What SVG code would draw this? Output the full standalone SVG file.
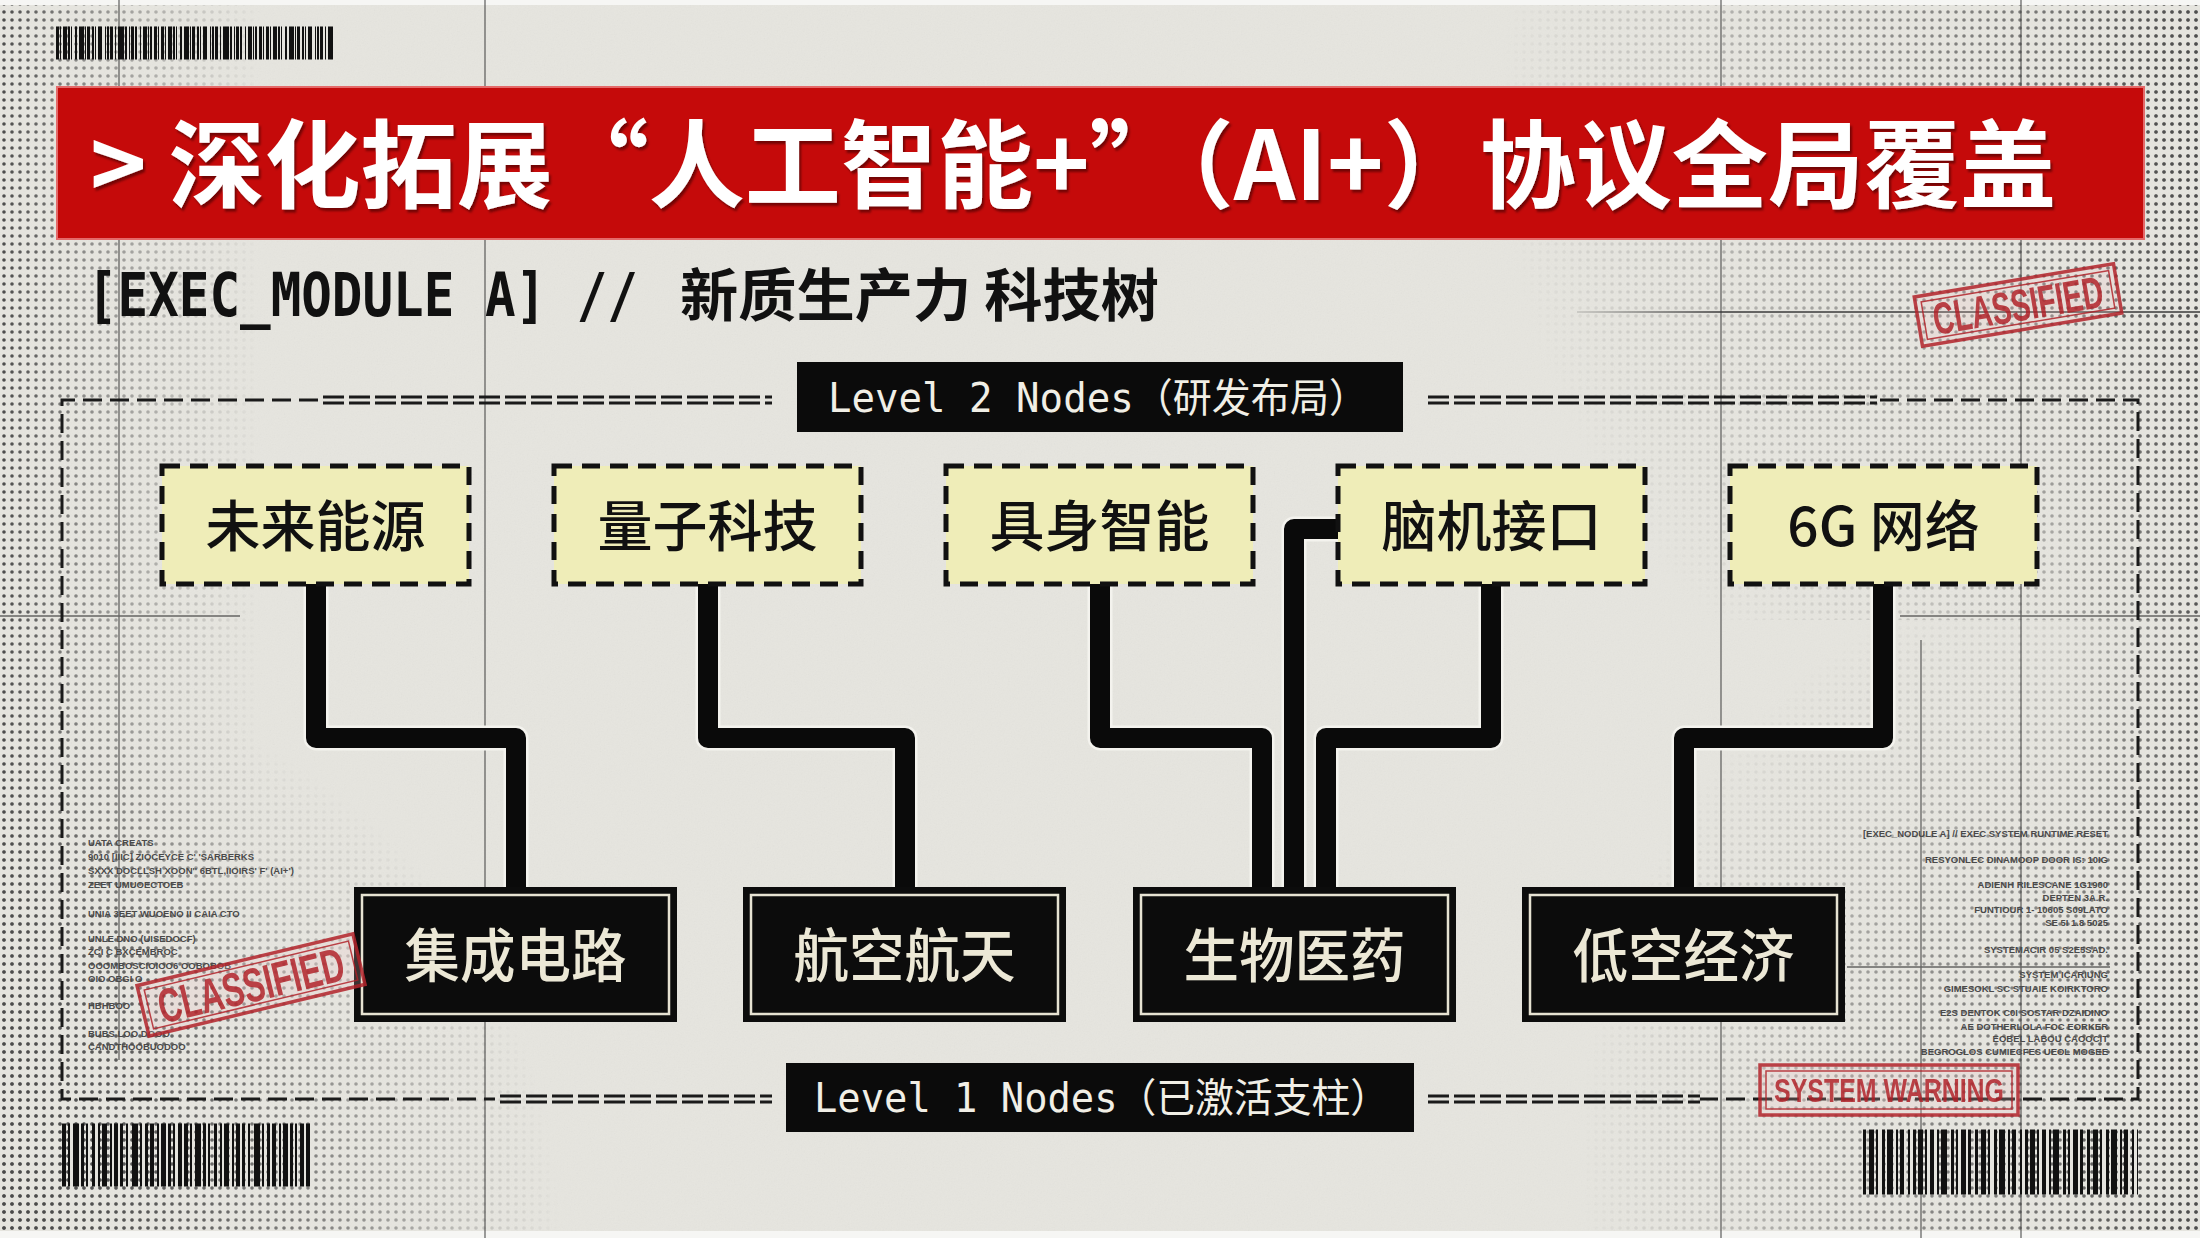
<svg xmlns="http://www.w3.org/2000/svg" width="2200" height="1238" viewBox="0 0 2200 1238">
<defs>
<style>
.cjk{font-family:'Noto Sans CJK SC','Noto Sans',sans-serif}
.mono{font-family:'DejaVu Sans Mono','Noto Sans CJK SC',monospace}
.crop{stroke:#3a3a3a;stroke-width:1.3;opacity:.75;fill:none}
.frame{fill:none;stroke:#1a1a1a;stroke-width:3;stroke-dasharray:19 8}
.dbl{fill:none;stroke:#1a1a1a;stroke-width:3;stroke-dasharray:21 5}
.l2 rect{fill:#efedb8;stroke:#111;stroke-width:5;stroke-dasharray:18 10}
.l2 text{font-size:55px;font-weight:500;fill:#111;text-anchor:middle}
.l1 .o{fill:#0c0c0c}
.l1 .i{fill:none;stroke:#e6e2d2;stroke-width:2.5}
.l1 text{font-size:58px;font-weight:500;fill:#ece8d6;text-anchor:middle}
.lbl rect{fill:#0b0b0b}
.lbl text{font-size:40px;fill:#f1efe6}
.conn path{fill:none;stroke:#0a0a0a;stroke-width:20;stroke-linejoin:round}
.halo path{fill:none;stroke:#f4f3ee;stroke-width:25;stroke-linejoin:round}
.stamp{opacity:.86}
.stamp .so{fill:rgba(240,200,200,.25);stroke:#b3262d;stroke-width:3.5}
.stamp .si{fill:none;stroke:#b3262d;stroke-width:1.5}
.stamp text{font-family:'Liberation Sans',Arial,sans-serif;font-weight:bold;fill:#b3262d}
.tiny{font-family:'Liberation Sans',Arial,sans-serif;font-size:9.5px;fill:#4a4a4a;font-weight:bold}
.bar{fill:none;stroke:#111}
</style>
<pattern id="dots" width="8" height="8" patternUnits="userSpaceOnUse"><circle cx="4" cy="4" r="1.8" fill="#4a4a4a"/></pattern>
<filter id="grain" x="0" y="0" width="2200" height="1238" filterUnits="userSpaceOnUse"><feTurbulence type="fractalNoise" baseFrequency="0.7" numOctaves="3" seed="7"/><feColorMatrix type="saturate" values="0"/></filter>
<filter id="tshadow" x="-5%" y="-20%" width="110%" height="140%"><feDropShadow dx="2" dy="3" stdDeviation="1.2" flood-color="#3a0000" flood-opacity="0.6"/></filter>
<linearGradient id="gL" x1="0" y1="0" x2="260" y2="0" gradientUnits="userSpaceOnUse"><stop offset="0" stop-color="#fff"/><stop offset="0.3" stop-color="#999"/><stop offset="1" stop-color="#000"/></linearGradient>
<linearGradient id="gR" x1="2200" y1="0" x2="2060" y2="0" gradientUnits="userSpaceOnUse"><stop offset="0" stop-color="#ddd"/><stop offset="1" stop-color="#000"/></linearGradient>
<linearGradient id="gLine" x1="1577" y1="0" x2="1720" y2="0" gradientUnits="userSpaceOnUse"><stop offset="0" stop-color="#3a3a3a" stop-opacity="0.2"/><stop offset="1" stop-color="#3a3a3a" stop-opacity="1"/></linearGradient>
<radialGradient id="gBL" cx="0" cy="1238" r="560" gradientUnits="userSpaceOnUse"><stop offset="0" stop-color="#fff"/><stop offset="0.55" stop-color="#aaa"/><stop offset="1" stop-color="#000"/></radialGradient>
<radialGradient id="gTR" cx="2200" cy="120" r="700" gradientUnits="userSpaceOnUse"><stop offset="0" stop-color="#eee"/><stop offset="0.5" stop-color="#888"/><stop offset="1" stop-color="#000"/></radialGradient>
<radialGradient id="gBR" cx="2200" cy="1150" r="620" gradientUnits="userSpaceOnUse"><stop offset="0" stop-color="#eee"/><stop offset="0.55" stop-color="#888"/><stop offset="1" stop-color="#000"/></radialGradient>
<mask id="mL"><rect x="0" y="0" width="260" height="1238" fill="url(#gL)"/></mask>
<mask id="mR"><rect x="2060" y="0" width="140" height="1238" fill="url(#gR)"/></mask>
<mask id="mBL"><rect x="0" y="680" width="560" height="558" fill="url(#gBL)"/></mask>
<mask id="mTR"><rect x="1500" y="0" width="700" height="620" fill="url(#gTR)"/></mask>
<mask id="mBR"><rect x="1580" y="560" width="620" height="678" fill="url(#gBR)"/></mask>
</defs>

<g id="background">
<rect width="2200" height="1238" fill="#e6e5df"/>
<rect width="2200" height="1238" filter="url(#grain)" opacity="0.06"/>
<rect x="0" y="0" width="260" height="1238" fill="url(#dots)" mask="url(#mL)"/>
<rect x="2060" y="0" width="140" height="1238" fill="url(#dots)" mask="url(#mR)"/>
<rect x="0" y="680" width="560" height="558" fill="url(#dots)" mask="url(#mBL)"/>
<rect x="1500" y="0" width="700" height="620" fill="url(#dots)" mask="url(#mTR)"/>
<rect x="1580" y="560" width="620" height="678" fill="url(#dots)" mask="url(#mBR)"/>
<rect x="0" y="0" width="2200" height="5" fill="#f6f6f4"/>
<rect x="0" y="1231" width="2200" height="7" fill="#f6f6f4"/>
<path class="crop" d="M119 0V1060M485 0V1238M1721 0V1238M2021 0V1238M1921 640V1238M0 616H240M1900 616H2200M1847 967H2110"/>
<path d="M1577 312H2200" stroke="url(#gLine)" stroke-width="1.6" fill="none"/>
</g>

<g id="barcodes">
<line class="bar" x1="56" y1="43" x2="333" y2="43" stroke-width="33" stroke-dasharray="3 1 1 2 4 1 2 1 1 3 2 2 5 1 1 1 3 2 2 1 1 2 4 3 1 1 2 1 3 2 1 2 6 1 2 2 1 1 3 1 2 3 1 2 4 1 1 1 2 2 3 1 1 2"/>
<line class="bar" x1="62" y1="1155" x2="312" y2="1155" stroke-width="63" stroke-dasharray="4 2 2 3 6 2 3 2 2 4 3 3 2 2 5 3 2 2 4 2 3 3 2 4 6 2 2 3 3 2 4 3 2 2 5 2 3 2 2 3 4 2"/>
<line class="bar" x1="1863" y1="1162" x2="2138" y2="1162" stroke-width="65" stroke-dasharray="3 3 5 2 2 4 3 2 6 3 2 2 4 4 2 3 3 2 5 2 2 3 4 3 2 2 6 4 3 2 2 3 5 2 3 4"/>
</g>

<g id="title">
<rect x="57" y="87" width="2087" height="152" fill="#c50a0a" stroke="#e46a6a" stroke-width="2"/>
<text class="cjk" x="90" y="200" font-size="96" font-weight="bold" fill="#ffffff" filter="url(#tshadow)" textLength="1966" lengthAdjust="spacingAndGlyphs">&gt; 深化拓展“人工智能+”（AI+）协议全局覆盖</text>
</g>

<g id="subtitle">
<text transform="translate(87 316) scale(0.8336 1)" x="0" y="0" font-family="'DejaVu Sans Mono',monospace" font-size="61" font-weight="bold" fill="#111">[EXEC_MODULE A] //</text>
<text class="cjk" x="680" y="316" font-size="57" font-weight="bold" fill="#111" textLength="479" lengthAdjust="spacingAndGlyphs">新质生产力 科技树</text>
</g>

<g id="frame">
<path class="frame" d="M318 400H62V1099H495"/>
<path class="frame" d="M1880 400H2138V1099H1700"/>
<path class="dbl" d="M323 397H772M323 403H772M1428 397H1877M1428 403H1877"/>
<path class="dbl" d="M500 1096H772M500 1102H772M1428 1096H1700M1428 1102H1700"/>
</g>

<g id="small-text-left" class="tiny">
<text x="88" y="846">UATA CREATS</text>
<text x="88" y="860">9010 [IIIC] ZIOCEYCE C' 'SARBERKS</text>
<text x="88" y="874">SXXX DOCLLSH XOON'' 6BTL,IIOIRS' F' (AI+')</text>
<text x="88" y="888">ZEET UMUOECTOEB</text>
<text x="88" y="917">UNIA 3EET WUOENO II CAIA CTO</text>
<text x="88" y="942">UNLE DNO (UISEDOCF)</text>
<text x="88" y="955">ZCI C BXCEMBROC</text>
<text x="88" y="969">OOOMBOSCIOIOO6 OOBOBOB</text>
<text x="88" y="982">OIO OBGI O</text>
<text x="88" y="1009">HBHBOO</text>
<text x="88" y="1037">BUBS LOO DOOO</text>
<text x="88" y="1050">CANDTHOOBUODOO</text>
</g>

<g id="small-text-right" class="tiny" text-anchor="end">
<text x="2108" y="837">[EXEC_NODULE A] // EXEC SYSTEM RUNTIME RESET</text>
<text x="2108" y="863">RESYONLEC DINAMOOP DOOR IS: 10IG</text>
<text x="2108" y="888">ADIENH RILESCANE 1G1900</text>
<text x="2108" y="901">DEPTEN 3A.R.</text>
<text x="2108" y="913">FUNTIOUR 1- 10605 S09LATO</text>
<text x="2108" y="926">SE 5I 1.8 5025</text>
<text x="2108" y="953">SYSTEMACIR 05 S2E5SAD.</text>
<text x="2108" y="978">SYSTEM ICARIUNG</text>
<text x="2108" y="992">GIMESOKL SC STUAIE KOIRKTORO</text>
<text x="2108" y="1016">E2S DENTOK C0I SOSTAR DZAIDINO</text>
<text x="2108" y="1030">AE DOTHERLOLA FOC EORKER</text>
<text x="2108" y="1042">EOBEL LABOU CAOOCIT</text>
<text x="2108" y="1055">BEGROGLOS CUMIECFES UEOL MOGEE</text>
</g>

<g id="connectors">
<g class="halo">
<path d="M316 582V738H516V889"/>
<path d="M708 582V738H905V889"/>
<path d="M1100 582V738H1262V889"/>
<path d="M1340 529H1294V889"/>
<path d="M1491 582V738H1326V889"/>
<path d="M1883 582V738H1684V889"/>
</g>
<g class="conn">
<path d="M316 582V738H516V889"/>
<path d="M708 582V738H905V889"/>
<path d="M1100 582V738H1262V889"/>
<path d="M1340 529H1294V889"/>
<path d="M1491 582V738H1326V889"/>
<path d="M1883 582V738H1684V889"/>
</g>
</g>

<g id="label-level2" class="lbl">
<rect x="797" y="362" width="606" height="70"/>
<text class="mono" x="828" y="412" textLength="540" lengthAdjust="spacingAndGlyphs">Level 2 Nodes（研发布局）</text>
</g>
<g id="label-level1" class="lbl">
<rect x="786" y="1063" width="628" height="69"/>
<text class="mono" x="814" y="1112" textLength="575" lengthAdjust="spacingAndGlyphs">Level 1 Nodes（已激活支柱）</text>
</g>

<g id="node-future-energy" class="l2"><rect x="162" y="466" width="307" height="118"/><text class="cjk" x="315.5" y="546">未来能源</text></g>
<g id="node-quantum" class="l2"><rect x="554" y="466" width="307" height="118"/><text class="cjk" x="707.5" y="546">量子科技</text></g>
<g id="node-embodied-ai" class="l2"><rect x="946" y="466" width="307" height="118"/><text class="cjk" x="1099.5" y="546">具身智能</text></g>
<g id="node-bci" class="l2"><rect x="1338" y="466" width="307" height="118"/><text class="cjk" x="1491.5" y="546">脑机接口</text></g>
<g id="node-6g" class="l2"><rect x="1730" y="466" width="307" height="118"/><text class="cjk" x="1883.5" y="546">6G 网络</text></g>

<g id="node-ic" class="l1"><rect class="o" x="354" y="887" width="323" height="135"/><rect class="i" x="362" y="895" width="307" height="119"/><text class="cjk" x="515.5" y="977" textLength="222" lengthAdjust="spacingAndGlyphs">集成电路</text></g>
<g id="node-aerospace" class="l1"><rect class="o" x="743" y="887" width="323" height="135"/><rect class="i" x="751" y="895" width="307" height="119"/><text class="cjk" x="904.5" y="977" textLength="222" lengthAdjust="spacingAndGlyphs">航空航天</text></g>
<g id="node-biomed" class="l1"><rect class="o" x="1133" y="887" width="323" height="135"/><rect class="i" x="1141" y="895" width="307" height="119"/><text class="cjk" x="1294.5" y="977" textLength="222" lengthAdjust="spacingAndGlyphs">生物医药</text></g>
<g id="node-low-altitude" class="l1"><rect class="o" x="1522" y="887" width="323" height="135"/><rect class="i" x="1530" y="895" width="307" height="119"/><text class="cjk" x="1683.5" y="977" textLength="222" lengthAdjust="spacingAndGlyphs">低空经济</text></g>

<g id="stamp-classified-top" class="stamp" transform="translate(2018 305) rotate(-9.5)">
<rect class="so" x="-101" y="-25" width="202" height="50"/>
<rect class="si" x="-95" y="-19" width="190" height="38"/>
<text x="0" y="16" font-size="45" text-anchor="middle" textLength="172" lengthAdjust="spacingAndGlyphs">CLASSIFIED</text>
</g>
<g id="stamp-classified-left" class="stamp" transform="translate(251 985) rotate(-13.5)">
<rect class="so" x="-111" y="-26" width="222" height="52"/>
<rect class="si" x="-105" y="-20" width="210" height="40"/>
<text x="0" y="17" font-size="48" text-anchor="middle" textLength="190" lengthAdjust="spacingAndGlyphs">CLASSIFIED</text>
</g>
<g id="stamp-warning" class="stamp">
<rect class="so" x="1760" y="1065" width="258" height="50"/>
<rect class="si" x="1766" y="1071" width="246" height="38"/>
<text x="1889" y="1102" font-size="33" text-anchor="middle" textLength="230" lengthAdjust="spacingAndGlyphs">SYSTEM WARNING</text>
</g>
</svg>
